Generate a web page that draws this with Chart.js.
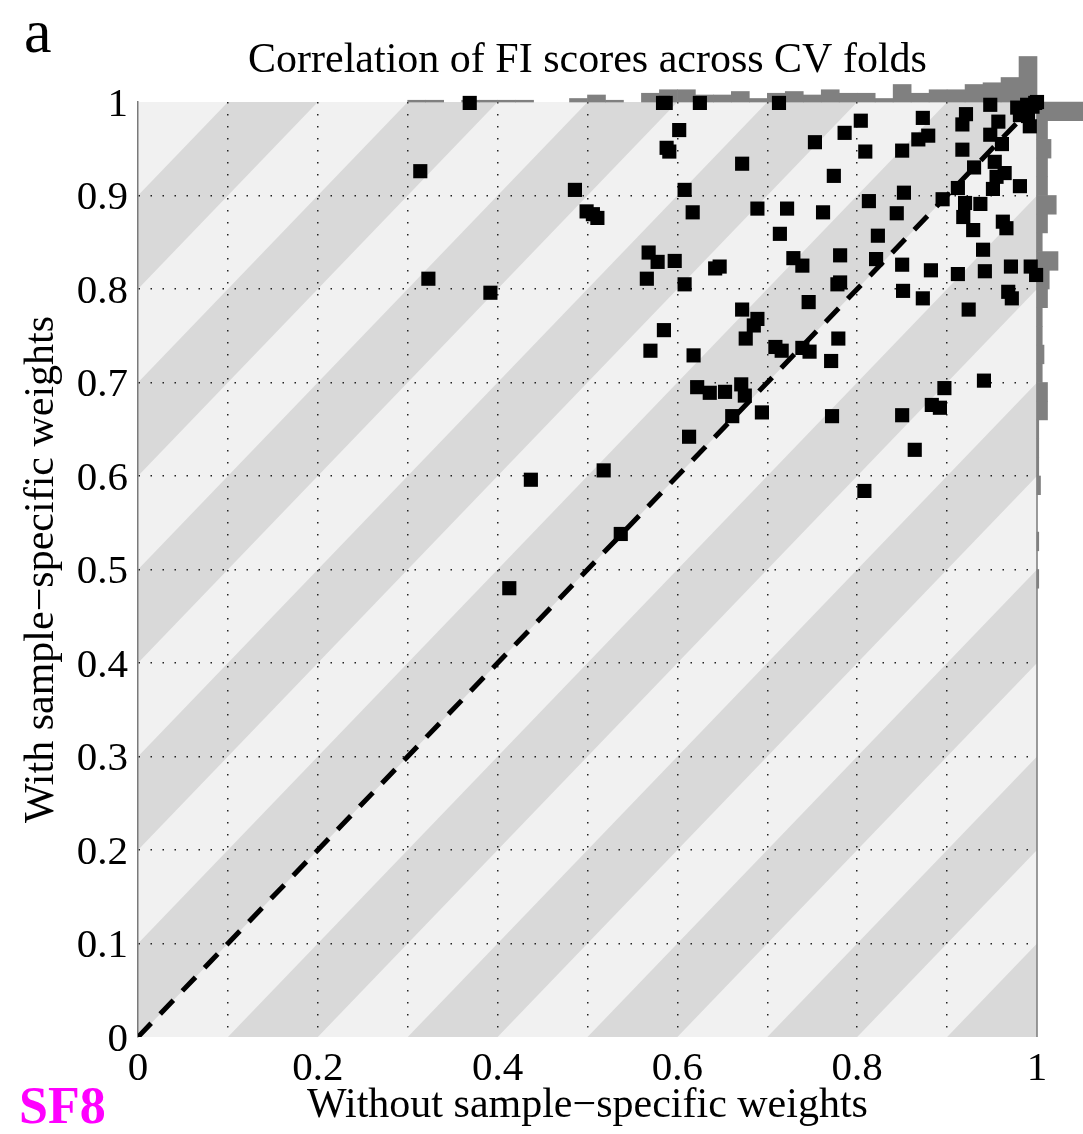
<!DOCTYPE html>
<html>
<head>
<meta charset="utf-8">
<title>Correlation of FI scores across CV folds</title>
<script src="https://cdn.jsdelivr.net/npm/chart.js@4.4.1/dist/chart.umd.min.js"></script>
<style>
    html, body { margin: 0; padding: 0; background: #fff; }
</style>
</head>
<body>
<canvas id="chart-area" width="1083" height="1134"></canvas>
<script>
// FI score correlation per feature
var withoutWeights = [
    0.369, 0.314, 0.323, 0.392, 0.413, 0.437, 0.486, 0.499, 0.506, 0.511,
    0.518, 0.537, 0.584, 0.587, 0.625, 0.713, 0.602, 0.591, 0.588, 0.608,
    0.617, 0.568, 0.578, 0.597, 0.566, 0.608, 0.642, 0.647, 0.672, 0.689,
    0.722, 0.714, 0.729, 0.739, 0.672, 0.689, 0.685, 0.676, 0.585, 0.570,
    0.618, 0.709, 0.716, 0.739, 0.747, 0.771, 0.779, 0.622, 0.636, 0.653,
    0.671, 0.675, 0.661, 0.694, 0.613, 0.772, 0.850, 0.864, 0.883, 0.892,
    0.897, 0.941, 0.808, 0.804, 0.873, 0.921, 0.917, 0.948, 0.978, 0.989,
    0.998, 0.981, 0.957, 0.992, 0.786, 0.753, 0.868, 0.879, 0.948, 0.961,
    0.809, 0.850, 0.917, 0.930, 0.953, 0.964, 0.955, 0.951, 0.981, 0.912,
    0.774, 0.852, 0.813, 0.895, 0.920, 0.937, 0.762, 0.844, 0.918, 0.962,
    0.966, 0.929, 0.823, 0.940, 0.781, 0.821, 0.850, 0.882, 0.912, 0.942,
    0.971, 0.993, 0.999, 0.781, 0.778, 0.851, 0.873, 0.968, 0.972, 0.746,
    0.924, 1.000, 0.995, 0.985, 0.990
];
var withWeights = [
    0.999, 0.926, 0.811, 0.796, 0.480, 0.596, 0.906, 0.883, 0.880, 0.876,
    0.606, 0.538, 0.999, 0.999, 0.999, 0.999, 0.970, 0.947, 0.951, 0.906,
    0.882, 0.839, 0.829, 0.830, 0.811, 0.805, 0.822, 0.824, 0.934, 0.886,
    0.886, 0.859, 0.833, 0.825, 0.778, 0.768, 0.761, 0.747, 0.756, 0.734,
    0.729, 0.738, 0.734, 0.737, 0.733, 0.723, 0.747, 0.695, 0.689, 0.690,
    0.698, 0.686, 0.664, 0.668, 0.642, 0.664, 0.665, 0.628, 0.676, 0.673,
    0.694, 0.702, 0.584, 0.980, 0.983, 0.987, 0.976, 0.997, 0.994, 0.997,
    0.999, 0.986, 0.979, 0.974, 0.967, 0.957, 0.960, 0.964, 0.965, 0.955,
    0.947, 0.948, 0.949, 0.930, 0.936, 0.924, 0.920, 0.907, 0.910, 0.908,
    0.921, 0.903, 0.894, 0.896, 0.892, 0.891, 0.882, 0.881, 0.877, 0.872,
    0.865, 0.863, 0.857, 0.842, 0.836, 0.832, 0.826, 0.820, 0.816, 0.819,
    0.824, 0.824, 0.815, 0.807, 0.805, 0.798, 0.790, 0.797, 0.790, 0.786,
    0.778, 1.000, 0.995, 0.990, 0.985
];

// marginal histograms, bin width 0.02
var topBinCenters = [0.31, 0.33, 0.35, 0.37, 0.39, 0.41, 0.43, 0.45, 0.47, 0.49,
    0.51, 0.53, 0.55, 0.57, 0.59, 0.61, 0.63, 0.65, 0.67, 0.69,
    0.71, 0.73, 0.75, 0.77, 0.79, 0.81, 0.83, 0.85, 0.87, 0.89,
    0.91, 0.93, 0.95, 0.97, 0.99];
var topCounts = [1, 1, 0, 1, 1, 1, 1, 0, 0, 2,
    4, 1, 0, 5, 7, 7, 4, 4, 6, 2,
    5, 6, 4, 7, 5, 5, 2, 10, 5, 7,
    7, 10, 11, 14, 26];
var rightBinCenters = [0.49, 0.51, 0.53, 0.55, 0.57, 0.59, 0.61, 0.63, 0.65, 0.67,
    0.69, 0.71, 0.73, 0.75, 0.77, 0.79, 0.81, 0.83, 0.85, 0.87,
    0.89, 0.91, 0.93, 0.95, 0.97, 0.99];
var rightCounts = [1, 0, 1, 0, 0, 2, 1, 1, 1, 6,
    6, 3, 4, 3, 3, 6, 7, 12, 3, 6,
    11, 6, 6, 8, 6, 40];

var diagonal = [0, 1];
var xTickLabels = ['0', '0.2', '0.4', '0.6', '0.8', '1'];
var yTickLabels = ['0', '0.1', '0.2', '0.3', '0.4', '0.5', '0.6', '0.7', '0.8', '0.9', '1'];

var serif = "'Liberation Serif', 'Times New Roman', serif";
var lightBand = '#f1f1f1';
var darkBand = '#d9d9d9';
var histGray = '#808080';
var histPx = 1.75; // pixels per count in the margin histograms

function label(v) {
    return String(Number(v.toFixed(1)));
}

var points = [];
for (var i = 0; i < withoutWeights.length; i++) {
    points.push({ x: withoutWeights[i], y: withWeights[i] });
}
var topBars = [];
for (var i = 0; i < topBinCenters.length; i++) {
    if (topCounts[i] > 0) topBars.push({ x: topBinCenters[i], y: topCounts[i] });
}
var rightBars = [];
for (var i = 0; i < rightBinCenters.length; i++) {
    if (rightCounts[i] > 0) rightBars.push({ y: rightBinCenters[i], x: rightCounts[i] });
}

function gridColor(c) {
    var v = c.tick ? c.tick.value : 0;
    return (v <= 0.001 || v >= 0.999) ? 'rgba(0,0,0,0)' : '#222';
}

// diagonal grey stripes behind the plot, plus panel letters
var decor = {
    id: 'decor',
    beforeDraw: function (chart) {
        var ctx = chart.ctx, a = chart.chartArea;
        var xs = chart.scales.x, ys = chart.scales.y;
        ctx.save();
        ctx.fillStyle = '#fff';
        ctx.fillRect(0, 0, chart.width, chart.height);
        ctx.beginPath();
        ctx.rect(a.left, a.top, a.right - a.left, a.bottom - a.top);
        ctx.clip();
        ctx.fillStyle = lightBand;
        ctx.fillRect(a.left, a.top, a.right - a.left, a.bottom - a.top);
        ctx.fillStyle = darkBand;
        for (var k = -10; k < 10; k++) {
            if (Math.abs(k) % 2 !== 1) continue;
            var c0 = k / 10, c1 = (k + 1) / 10;
            ctx.beginPath();
            ctx.moveTo(xs.getPixelForValue(c0 - 1), ys.getPixelForValue(-1));
            ctx.lineTo(xs.getPixelForValue(c0 + 2), ys.getPixelForValue(2));
            ctx.lineTo(xs.getPixelForValue(c1 + 2), ys.getPixelForValue(2));
            ctx.lineTo(xs.getPixelForValue(c1 - 1), ys.getPixelForValue(-1));
            ctx.closePath();
            ctx.fill();
        }
        ctx.restore();
    },
    beforeDatasetsDraw: function (chart) {
        var ctx = chart.ctx, a = chart.chartArea;
        ctx.save();
        ctx.strokeStyle = '#7a7a7a';
        ctx.lineWidth = 1.5;
        ctx.beginPath();
        ctx.moveTo(a.right, a.top);
        ctx.lineTo(a.right, a.bottom);
        ctx.stroke();
        ctx.restore();
    },
    afterDraw: function (chart) {
        var ctx = chart.ctx;
        ctx.save();
        ctx.fillStyle = '#000';
        ctx.font = 'normal 62px ' + serif;
        ctx.textBaseline = 'alphabetic';
        ctx.fillText('a', 24, 52);
        ctx.fillStyle = '#ff00ff';
        ctx.font = 'bold 52px ' + serif;
        ctx.fillText('SF8', 19, 1123);
        ctx.restore();
    }
};

var config = {
    type: 'scatter',
    data: {
        datasets: [{
            label: 'features',
            data: points,
            pointStyle: 'rect',
            pointRadius: 10,
            pointBackgroundColor: '#000',
            pointBorderWidth: 0,
            clip: false
        }, {
            type: 'line',
            label: 'y = x',
            data: [{ x: diagonal[0], y: diagonal[0] }, { x: diagonal[1], y: diagonal[1] }],
            borderColor: '#000',
            borderWidth: 5,
            borderDash: [19, 13],
            pointRadius: 0,
            fill: false
        }, {
            type: 'bar',
            label: 'top histogram',
            data: topBars,
            xAxisID: 'x',
            yAxisID: 'yTop',
            backgroundColor: histGray,
            borderWidth: 0,
            barPercentage: 1,
            categoryPercentage: 1,
            grouped: false,
            clip: false
        }, {
            type: 'bar',
            label: 'right histogram',
            indexAxis: 'y',
            data: rightBars,
            xAxisID: 'xR',
            yAxisID: 'y',
            backgroundColor: histGray,
            borderWidth: 0,
            barPercentage: 1,
            categoryPercentage: 1,
            grouped: false,
            clip: false
        }]
    },
    options: {
        responsive: false,
        animation: false,
        devicePixelRatio: 1,
        events: [],
        layout: { padding: { left: 0, right: 46, top: 0, bottom: 0 } },
        plugins: {
            legend: { display: false },
            tooltip: { enabled: false },
            title: {
                display: true,
                text: 'Correlation of FI scores across CV folds',
                fullSize: false,
                color: '#000',
                font: { family: serif, size: 42, weight: 'normal', lineHeight: 1.2 },
                padding: { top: 36, bottom: 15.6 }
            }
        },
        scales: {
            x: {
                type: 'linear',
                min: 0,
                max: 1,
                offset: false,
                afterFit: function (scale) { scale.height = 97; },
                border: { display: false, dash: [1.5, 10.5] },
                grid: { offset: false, drawTicks: false, lineWidth: 1.5, color: gridColor },
                ticks: {
                    stepSize: 0.1,
                    autoSkip: false,
                    maxRotation: 0,
                    padding: 8,
                    color: '#000',
                    font: { family: serif, size: 41 },
                    callback: function (v) {
                        var s = label(v);
                        return xTickLabels.indexOf(s) >= 0 ? s : '';
                    }
                },
                title: {
                    display: true,
                    text: 'Without sample\u2212specific weights',
                    color: '#000',
                    font: { family: serif, size: 42, lineHeight: 1.2 },
                    padding: { top: 0, bottom: 3 }
                }
            },
            y: {
                type: 'linear',
                min: 0,
                max: 1,
                offset: false,
                afterFit: function (scale) { scale.width = 138; },
                border: { display: true, color: '#7a7a7a', width: 1.5, dash: [1.5, 10.5] },
                grid: { offset: false, drawTicks: false, lineWidth: 1.5, color: gridColor },
                ticks: {
                    stepSize: 0.1,
                    autoSkip: false,
                    padding: 10,
                    labelOffset: 3,
                    color: '#000',
                    font: { family: serif, size: 41 },
                    callback: function (v) {
                        var s = label(v);
                        return yTickLabels.indexOf(s) >= 0 ? s : '';
                    }
                },
                title: {
                    display: true,
                    text: 'With sample\u2212specific weights',
                    color: '#000',
                    font: { family: serif, size: 42, lineHeight: 1.2 },
                    padding: { top: 17, bottom: 0 }
                }
            },
            yTop: {
                type: 'linear',
                axis: 'y',
                position: 'left',
                display: false,
                offset: false,
                min: -935 / histPx,
                max: 0
            },
            xR: {
                type: 'linear',
                axis: 'x',
                position: 'bottom',
                display: false,
                offset: false,
                min: -899 / histPx,
                max: 0
            }
        }
    },
    plugins: [decor]
};

var ctx = document.getElementById('chart-area').getContext('2d');
window.myScatter = new Chart(ctx, config);
</script>
</body>
</html>
